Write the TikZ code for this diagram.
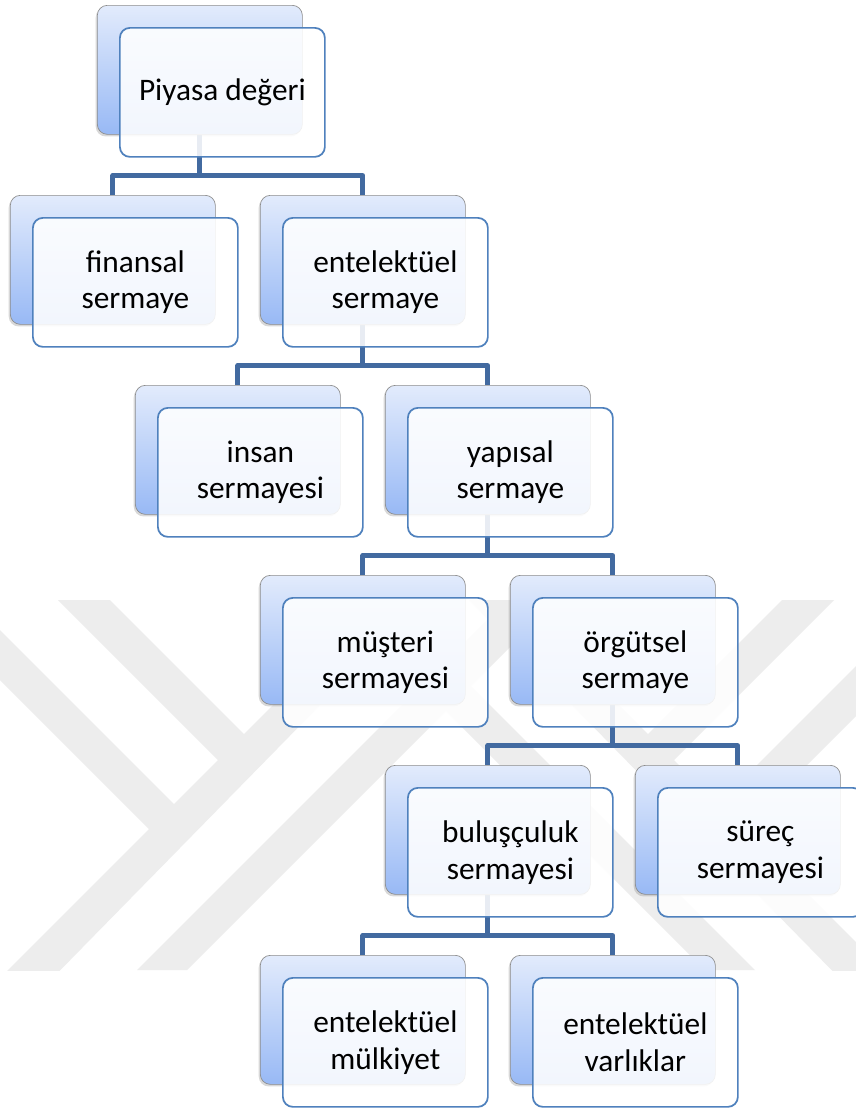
\documentclass[tikz,border=0pt]{standalone}
\usepackage{fontspec}
\setmainfont{Carlito}
\usetikzlibrary{shadows}

\definecolor{linkblue}{RGB}{66,106,160}
\definecolor{frameblue}{RGB}{79,129,189}
\definecolor{shadetop}{RGB}{226,235,252}
\definecolor{shadebottom}{RGB}{152,185,245}
\definecolor{markgray}{RGB}{237,237,237}

\pgfdeclarelayer{wm}
\pgfdeclarelayer{links}
\pgfsetlayers{wm,links,main}

\tikzset{
  backbox/.style={draw=black!45, line width=0.5pt, rounded corners=7.5pt,
    top color=shadetop, bottom color=shadebottom,
    minimum width=153.75pt, minimum height=96.75pt, inner sep=0pt,
    anchor=north west,
    drop shadow={shadow xshift=-1.2pt, shadow yshift=-1.6pt, opacity=0.3}},
  frontbox/.style={draw=frameblue, line width=1.3pt, rounded corners=7.5pt,
    fill=white, fill opacity=0.88, text opacity=1,
    minimum width=153.75pt, minimum height=96.75pt, inner sep=0pt,
    align=center, text=black, font=\fontsize{23.5}{27.4}\selectfont},
  link/.style={draw=linkblue, line width=3.6pt, line join=round},
}

% a stacked card: shaded back plate plus a framed front plate holding the text
\newcommand\cardpair[4]{%
  \node[backbox] (#1-b) at (#2,#3) {};
  \node[frontbox, anchor=north west] (#1) at ([shift={(16.5pt,-16.5pt)}]#1-b.north west) {#4};}

\begin{document}
\begin{tikzpicture}[x=0.75pt, y=-0.75pt]
\useasboundingbox (0,0) rectangle (856,1108);

% background and faint emblem
\begin{pgfonlayer}{wm}
  \fill[white] (0,0) rectangle (856,1108);
  \begin{scope}
    \clip (0,600) rectangle (856,970);
    \fill[markgray] (58,600) -- (110,600) -- (266.5,756.5) -- (240.5,782.5) -- cycle;
    \fill[markgray] (-20,610) -- (196.5,826.5) -- (171.5,851.5) -- (-20,660) -- cycle;
    \fill[markgray] (-20,998) -- (33,998) -- (423,600) -- (378,600) -- cycle;
    \fill[markgray] (137,970) -- (187,970) -- (557,600) -- (507,600) -- cycle;
    \fill[markgray] (834,600) -- (782,600) -- (625.5,756.5) -- (651.5,782.5) -- cycle;
    \fill[markgray] (912,610) -- (695.5,826.5) -- (720.5,851.5) -- (912,660) -- cycle;
    \fill[markgray] (912,998) -- (859,998) -- (469,600) -- (514,600) -- cycle;
    \fill[markgray] (755,970) -- (705,970) -- (335,600) -- (385,600) -- cycle;
  \end{scope}
\end{pgfonlayer}

\cardpair{root}{97}{5}{Piyasa değeri}
\cardpair{fin}{10}{195}{finansal\\sermaye}
\cardpair{ent}{260}{195}{entelektüel\\sermaye}
\cardpair{ins}{135}{385}{insan\\sermayesi}
\cardpair{yap}{385}{385}{yapısal\\sermaye}
\cardpair{mus}{260}{575}{müşteri\\sermayesi}
\cardpair{org}{510}{575}{örgütsel\\sermaye}
\cardpair{bul}{385}{765}{buluşçuluk\\sermayesi}
\cardpair{sur}{635}{765}{süreç\\sermayesi}
\cardpair{mul}{260}{955}{entelektüel\\mülkiyet}
\cardpair{var}{510}{955}{entelektüel\\varlıklar}

% elbow connectors, kept under the cards
\begin{pgfonlayer}{links}
  \foreach \up/\lft/\rgt/\jn in {root/fin/ent/j1, ent/ins/yap/j2, yap/mus/org/j3,
                                 org/bul/sur/j4, bul/mul/var/j5}{
    \coordinate (\jn t) at ([yshift=14.6pt]\lft-b.north);
    \coordinate (\jn) at (\jn t -| \up-b.south);
    \draw[link] (\up-b.south) -- (\jn);
    \draw[link] (\lft-b.north) |- (\jn) -| (\rgt-b.north);
  }
\end{pgfonlayer}
\end{tikzpicture}
\end{document}
